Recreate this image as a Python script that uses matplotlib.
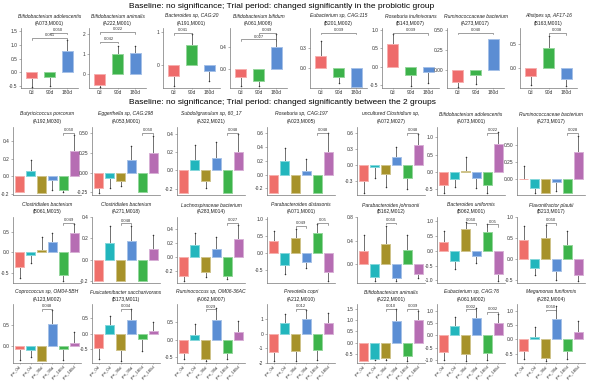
"""Bar panels of taxa abundance changes (probiotic trial), rebuilt from a figure."""
import numpy as np
import matplotlib
matplotlib.use('Agg')
from matplotlib import pyplot as plt
from matplotlib import colors as mcolors

plt.rcParams['font.family'] = ['Liberation Sans', 'DejaVu Sans']

NAN = np.nan

HEADING_TOP = "Baseline: no significance; Trial period: changed significantly in the probiotic group"
HEADING_BOTTOM = "Baseline: no significance; Trial period: changed significantly between the 2 groups"

# ---- upper block: probiotic group, three time points ----
TOP_GROUPS = ['0d', '90d', '180d']
TOP_SPECIES = ['Bifidobacterium adolescentis', 'Bifidobacterium animalis', 'Bacteroides sp, CAG:20',
               'Bifidobacterium bifidum', 'Eubacterium sp, CAG:115', 'Roseburia inulinivorans',
               'Ruminococcaceae bacterium', 'Alistipes sp, AF17-16']
TOP_IDS = ['(A073,M001)', '(A222,M001)', '(A191,M001)', '(A061,M008)',
           '(B201,M002)', '(B143,M007)', '(A273,M017)', '(B163,M001)']
TOP_MEANS = [[-0.22, -0.18, 0.78], [-0.55, 0.97, 1.03], [-0.35, 0.60, -0.18], [-0.14, -0.20, 0.40],
             [0.19, -0.125, -0.27], [0.61, -0.23, -0.16], [-0.14, -0.06, 0.39], [-0.17, 0.42, -0.22]]
# end of each whisker (NAN = no whisker visible)
TOP_TIPS = [[-0.52, -0.50, 1.18], [-0.65, 1.40, 1.40], [-0.65, 0.93, -0.50], [-0.30, -0.30, 0.63],
            [0.40, -0.22, NAN], [0.89, -0.55, -0.46], [-0.20, -0.17, NAN], [-0.34, 0.67, -0.38]]
# (bar a, bar b, bracket height, p value)
TOP_SIG = [[(0, 2, 1.25, '0.041'), (1, 2, 1.44, '0.050')],
           [(0, 1, 1.60, '0.042'), (0, 2, 2.08, '0.022')],
           [(0, 1, 0.95, '0.041')],
           [(0, 2, 0.53, '0.027'), (1, 2, 0.64, '0.049')],
           [(0, 2, 0.53, '0.039')],
           [(0, 2, 0.92, '0.039')],
           [(0, 2, 0.46, '0.040')],
           [(1, 2, 0.74, '0.038')]]
TOP_YTICKS = [['-0.5', '0.0', '0.5', '1.0', '1.5'], ['0', '1', '2'], ['0', '1'], ['0.0', '0.4'],
              ['0.0', '0.3'], ['-0.5', '0.0', '0.5', '1.0'], ['0.00', '0.25', '0.50'], ['0.0', '0.5']]

# ---- lower block: placebo (pre) vs probiotic (pro) ----
BOTTOM_GROUPS = ['pre_0d', 'pro_0d', 'pre_90d', 'pro_90d', 'pre_180d', 'pro_180d']
BOTTOM_SPECIES = ['Butyricicoccus porcorum', 'Eggerthella sp, CAG:298', 'Subdoligranulum sp, 60_17',
                  'Roseburia sp, CAG:197', 'uncultured Clostridium sp,', 'Bifidobacterium adolescentis',
                  'Ruminococcaceae bacterium',
                  'Clostridiales bacterium', 'Clostridiales bacterium', 'Lachnospiraceae bacterium',
                  'Parabacteroides distasonis', 'Parabacteroides johnsonii', 'Bacteroides uniformis',
                  'Flavonifractor plautii',
                  'Coprococcus sp, OM04-5BH', 'Fusicatenibacter saccharivorans', 'Ruminococcus sp, OM06-36AC',
                  'Prevotella copri', 'Bifidobacterium animalis', 'Eubacterium sp, CAG:76',
                  'Megamonas funiformis']
BOTTOM_IDS = ['(A192,M030)', '(A053,M001)', '(A322,M021)', '(A023,M005)', '(A072,M027)', '(A073,M001)',
              '(A273,M017)',
              '(B061,M015)', '(A271,M018)', '(A283,M014)', '(A071,M001)', '(B162,M012)', '(B062,M001)',
              '(B213,M017)',
              '(A123,M002)', '(B173,M011)', '(A062,M007)', '(A212,M010)', '(A222,M001)', '(A061,M002)',
              '(A282,M004)']
BOTTOM_MEANS = [[-0.18, 0.06, -0.19, -0.045, -0.155, 0.29],
                [-0.20, -0.07, -0.11, 0.16, -0.25, 0.25],
                [-0.245, 0.11, -0.115, 0.135, -0.25, 0.20],
                [-0.26, 0.19, -0.27, 0.05, -0.27, 0.32],
                [-0.30, -0.04, -0.17, 0.14, -0.24, 0.38],
                [-0.39, -0.22, 0.03, -0.17, -0.375, 0.79],
                [0.01, -0.13, -0.20, -0.045, -0.20, 0.40],
                [-0.37, -0.07, 0.06, 0.25, -0.56, 0.46],
                [-0.20, 0.16, -0.20, 0.175, -0.20, 0.10],
                [-0.27, 0.17, -0.21, 0.11, -0.28, 0.26],
                [0.37, -0.35, 0.45, -0.27, 0.60, -0.57],
                [0.22, -0.23, 0.34, -0.25, 0.24, -0.18],
                [0.31, -0.33, 0.72, -0.17, 0.63, -0.78],
                [0.46, -0.21, 0.50, -0.29, 0.33, -0.40],
                [-0.08, -0.09, -0.38, 0.54, -0.085, 0.06],
                [-0.45, 0.29, -0.53, 0.44, -0.17, 0.08],
                [-0.39, 0.14, -0.55, 0.58, -0.39, 0.22],
                [-1.25, 0.75, -1.20, 1.00, -1.12, 0.75],
                [-0.83, -0.73, -0.70, 0.93, -0.60, 1.00],
                [-0.69, 0.37, -0.75, 0.71, -0.72, 0.52],
                [-0.40, 0.09, -0.65, 0.70, -0.39, 0.27]]
BOTTOM_TIPS = [[NAN, 0.18, NAN, -0.155, -0.18, 0.46],
               [-0.26, -0.19, -0.17, 0.33, NAN, 0.46],
               [NAN, 0.28, -0.19, 0.31, NAN, 0.40],
               [NAN, 0.38, NAN, 0.22, NAN, 0.60],
               [-0.53, -0.25, -0.41, 0.34, -0.45, 0.57],
               [-0.62, -0.45, 0.43, -0.46, -0.62, 1.15],
               [0.19, -0.20, NAN, -0.165, NAN, 0.63],
               [-0.62, -0.27, 0.38, 0.47, -0.71, 0.69],
               [NAN, 0.32, NAN, 0.32, NAN, 0.23],
               [-0.35, 0.34, -0.29, 0.29, -0.32, 0.45],
               [0.65, -0.62, 0.70, -0.45, 0.85, -0.83],
               [0.50, -0.30, 0.65, -0.30, 0.50, -0.25],
               [0.67, -0.61, 0.98, -0.41, 0.89, -1.03],
               [0.79, -0.40, 0.82, -0.50, 0.67, -0.54],
               [-0.35, -0.28, NAN, 0.88, -0.35, 0.35],
               [-0.82, 0.59, -0.90, 0.80, -0.55, 0.37],
               [-0.57, 0.45, -0.63, 0.93, -0.55, 0.55],
               [-1.90, 1.36, -1.87, 1.64, -1.83, 1.45],
               [NAN, -0.76, -0.76, 1.47, -0.83, 1.40],
               [-1.02, 0.75, -1.06, 1.12, -1.02, 0.87],
               [-0.67, 0.45, -0.76, 1.16, -0.67, 0.63]]
BOTTOM_SIG = [[(4, 5, 0.49, '0.050')], [(4, 5, 0.50, '0.050')], [(4, 5, 0.41, '0.048')],
              [(4, 5, 0.60, '0.048')], [(4, 5, 0.60, '0.048')], [(4, 5, 1.12, '0.022')],
              [(4, 5, 0.67, '0.028')],
              [(4, 5, 0.72, '0.049')], [(2, 3, 0.34, '0.048')], [(4, 5, 0.49, '0.027')],
              [(2, 3, 0.80, '0.049'), (4, 5, 0.90, '0.05')], [(2, 3, 0.71, '0.050')],
              [(2, 3, 0.94, '0.050'), (4, 5, 0.89, '0.05')], [(2, 3, 0.87, '0.050')],
              [(2, 3, 0.90, '0.048')], [(2, 3, 0.80, '0.034')], [(2, 3, 0.88, '0.029')],
              [(2, 3, 1.68, '0.012')], [(2, 3, 1.47, '0.010'), (4, 5, 1.47, '0.039')],
              [(2, 3, 1.06, '0.002'), (4, 5, 0.94, '0.002')], [(2, 3, 1.04, '0.050')]]
BOTTOM_YTICKS = [['-0.2', '0.0', '0.2', '0.4'], ['-0.25', '0.00', '0.25', '0.50'],
                 ['-0.2', '0.0', '0.2', '0.4'], ['-0.2', '0.0', '0.2', '0.4', '0.6'],
                 ['-0.3', '0.0', '0.3', '0.6'], ['-0.5', '0.0', '0.5', '1.0'], ['0.00', '0.25', '0.50'],
                 ['-0.5', '0.0', '0.5'], ['-0.2', '0.0', '0.2', '0.4'], ['-0.2', '0.0', '0.2', '0.4'],
                 ['-0.5', '0.0', '0.5', '1.0'], ['0.0', '0.4', '0.8'], ['-1.0', '-0.5', '0.0', '0.5', '1.0'],
                 ['-0.5', '0.0', '0.5', '1.0'],
                 ['0.0', '0.5'], ['-0.5', '0.0', '0.5'], ['-0.5', '0.0', '0.5'], ['-2', '-1', '0', '1'],
                 ['-0.5', '0.0', '0.5', '1.0', '1.5'], ['-1.0', '-0.5', '0.0', '0.5', '1.0'],
                 ['-0.5', '0.0', '0.5', '1.0']]

TOP_COLORS = ['#EE6B6B', '#3CB24A', '#5B8DD3']
BOTTOM_COLORS = ['#EF6F6A', '#22B6BD', '#A7922A', '#5B8ED4', '#3DB44B', '#B66DB3']

FIG_W, FIG_H = 600, 386


def lighten(color, amount=0.45):
    """Mix a colour with white, used for the pale bar outlines."""
    rgb = np.array(mcolors.to_rgb(color))
    return tuple(rgb + (1 - rgb) * amount)


def add_px_axes(fig, left, top, width, height):
    """Axes placed with pixel numbers measured from the top-left corner."""
    return fig.add_axes([left / FIG_W, 1 - (top + height) / FIG_H, width / FIG_W, height / FIG_H])


def draw_panel(ax, means, tips, colors, sig, yticks, bar_width):
    x = np.arange(len(means))
    ax.bar(x, means, width=bar_width, color=colors,
           edgecolor=[lighten(c) for c in colors], linewidth=0.7, zorder=2)
    for xi, m, t in zip(x, means, tips):
        if np.isnan(t):
            continue
        ax.plot([xi, xi], [m, t], color='#4a4a4a', lw=0.55, zorder=1)
        ax.plot(xi, t, 'o', ms=1.1, color='#333333', mew=0, zorder=3)

    values = [v for v in list(means) + list(tips) if not np.isnan(v)]
    lo, hi = min(values + [0]), max(values + [0])
    span = hi - lo
    top = max([hi] + [s[2] + 0.1 * span for s in sig])
    ax.set_ylim(lo - 0.03 * span, top)
    ax.set_xlim(-0.6, len(means) - 0.4)

    for a, b, level, label in sig:
        tick = 0.035 * span
        ax.plot([a, a, b, b], [level - tick, level, level, level - tick],
                color='#555555', lw=0.4, clip_on=False, zorder=4)
        ax.text((a + b) / 2, level + 0.015 * span, label, ha='center', va='bottom',
                fontsize=3, color='#333333', clip_on=False)

    ax.set_yticks([float(t) for t in yticks])
    ax.set_yticklabels(yticks)
    for side in ('top', 'right'):
        ax.spines[side].set_visible(False)
    for side in ('left', 'bottom'):
        ax.spines[side].set_color('#777777')
        ax.spines[side].set_linewidth(0.5)
    ax.tick_params(axis='both', labelsize=3.5, length=1.5, width=0.4, pad=1,
                   colors='#777777', labelcolor='#333333')


def panel_titles(fig, left, width, title_y, species, ident):
    cx = (left + width / 2) / FIG_W
    fig.text(cx, 1 - title_y / FIG_H, species, ha='center', va='center',
             fontsize=3.6, style='italic', color='#222222')
    fig.text(cx, 1 - (title_y + 7) / FIG_H, ident, ha='center', va='center',
             fontsize=3.6, color='#222222')


def main():
    fig = plt.figure(figsize=(FIG_W / 100, FIG_H / 100), dpi=100)

    fig.text(282 / FIG_W, 1 - 6 / FIG_H, HEADING_TOP, ha='center', va='center', fontsize=6)
    fig.text(282 / FIG_W, 1 - 103 / FIG_H, HEADING_BOTTOM, ha='center', va='center', fontsize=6)

    # Upper block: 8 panels in one row.
    top_lefts = [21, 89, 163, 230, 310, 382, 447, 520]
    for k, left in enumerate(top_lefts):
        ax = add_px_axes(fig, left, 28, 57, 60)
        draw_panel(ax, TOP_MEANS[k], TOP_TIPS[k], TOP_COLORS, TOP_SIG[k], TOP_YTICKS[k], 0.62)
        ax.set_xticks(np.arange(len(TOP_GROUPS)))
        ax.set_xticklabels(TOP_GROUPS)
        ax.tick_params(axis='x', pad=0.5, length=1)
        panel_titles(fig, left, 57, 16, TOP_SPECIES[k], TOP_IDS[k])

    # Lower block: 3 rows of 7 panels.
    bottom_lefts = [13, 92, 177, 267, 357, 437, 517]
    rows = [(114, 127, 68), (205, 217, 66), (292, 304, 59)]
    for r, (title_y, ax_top, ax_h) in enumerate(rows):
        for c, left in enumerate(bottom_lefts):
            k = r * 7 + c
            ax = add_px_axes(fig, left, ax_top, 68, ax_h)
            draw_panel(ax, BOTTOM_MEANS[k], BOTTOM_TIPS[k], BOTTOM_COLORS, BOTTOM_SIG[k],
                       BOTTOM_YTICKS[k], 0.8)
            ax.set_xticks(np.arange(len(BOTTOM_GROUPS)))
            if r == len(rows) - 1:
                ax.set_xticklabels(BOTTOM_GROUPS, rotation=45, ha='right',
                                   rotation_mode='anchor', fontsize=3.1)
                ax.tick_params(axis='x', pad=0.5, length=1)
            else:
                ax.set_xticklabels([])
                ax.tick_params(axis='x', length=0)
            panel_titles(fig, left, 68, title_y, BOTTOM_SPECIES[k], BOTTOM_IDS[k])

    fig.savefig('out.png', dpi=100)


if __name__ == '__main__':
    main()
